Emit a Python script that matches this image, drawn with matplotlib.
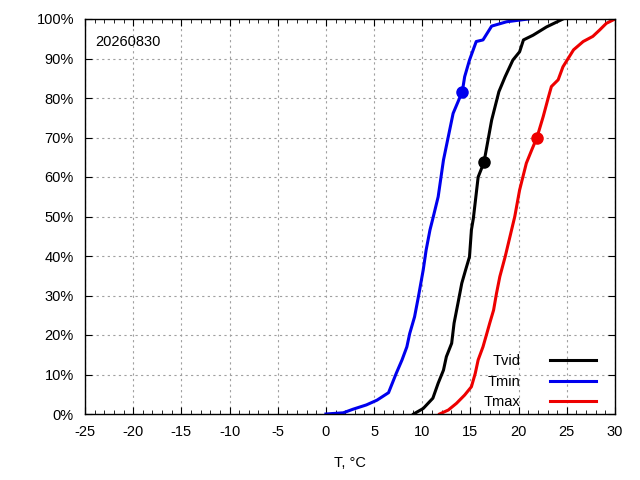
import matplotlib
matplotlib.use("Agg")
import matplotlib.pyplot as plt
from matplotlib.ticker import MultipleLocator, FuncFormatter

plt.rcParams['font.family'] = ['Liberation Sans', 'DejaVu Sans']
plt.rcParams['axes.unicode_minus'] = False

# Tmin
tmin_t = [0, 1.8, 2.8, 4.2, 5.3, 6.5, 7.3, 7.9, 8.4, 8.7, 9.2, 9.6, 10.1, 10.4, 10.8,
          11.1, 11.65, 12.2, 12.7, 13.2, 14.15, 14.4, 14.9, 15.6, 16.3, 17.2, 18.75, 21.0]
tmin_p = [0, 0.3, 1.2, 2.3, 3.5, 5.4, 10.3, 13.7, 17, 20.4, 24.6, 29.7, 36.5, 41.5, 46.6,
          49.5, 55, 64.3, 70.2, 76.1, 81.6, 85.4, 89.6, 94.3, 94.7, 98.2, 99.3, 100]
# Tvid
tvid_t = [9.1, 10.1, 11.1, 11.65, 12.2, 12.5, 13.05, 13.3, 13.7, 14.1, 14.5, 14.9, 15.1,
          15.3, 15.8, 16.4, 16.7, 17.2, 17.95, 18.6, 19.4, 20.1, 20.5, 21.5, 22.9, 24.6]
tvid_p = [0, 1.4, 4, 7.8, 11.1, 14.5, 17.9, 23, 28, 33.1, 36.5, 39.8, 46.6,
          49.5, 60, 63.7, 67.7, 74.4, 81.6, 85.4, 89.6, 91.7, 94.7, 95.9, 98, 100]
# Tmax
tmax_t = [11.8, 12.7, 13.55, 14.4, 15.1, 15.5, 15.8, 16.3, 16.7, 17.0, 17.4, 17.7, 18.05,
          18.6, 19.1, 19.6, 20.1, 20.8, 21.35, 21.9, 22.55, 23.1, 23.4, 24.1, 24.6, 25.7,
          26.7, 27.7, 28.4, 29.1, 30.0]
tmax_p = [0, 1, 2.7, 4.8, 6.9, 10.3, 13.7, 17, 20.4, 23, 26.3, 30.5, 34.8,
          39.8, 44.9, 50, 56.7, 63.5, 66.8, 70, 75.3, 80.3, 82.9, 84.6, 87.9, 92.2,
          94.3, 95.6, 97.2, 98.9, 100]

# highlighted points
mark_vid = (16.4, 63.7)
mark_min = (14.15, 81.6)
mark_max = (21.9, 70.0)

fig = plt.figure(figsize=(6.4, 4.8), dpi=100)
ax = fig.add_axes([85 / 640, 66 / 480, 530 / 640, 395 / 480])

ax.plot(tvid_t, tvid_p, color='black', lw=2.2, label='Tvid')
ax.plot(tmin_t, tmin_p, color='#0000ee', lw=2.2, label='Tmin')
ax.plot(tmax_t, tmax_p, color='#ee0000', lw=2.2, label='Tmax')

ax.plot(*mark_vid, 'o', color='black', ms=8)
ax.plot(*mark_min, 'o', color='#0000ee', ms=8)
ax.plot(*mark_max, 'o', color='#ee0000', ms=8)

ax.set_xlim(-25, 30)
ax.set_ylim(0, 100)
ax.xaxis.set_major_locator(MultipleLocator(5))
ax.xaxis.set_minor_locator(MultipleLocator(1))
ax.yaxis.set_major_locator(MultipleLocator(10))
ax.yaxis.set_major_formatter(FuncFormatter(lambda v, p: '%d%%' % v))
ax.tick_params(which='both', direction='in', top=True, right=True, labelsize=10.5)
ax.tick_params(which='major', length=5, pad=8)
ax.tick_params(which='minor', length=3)
ax.grid(True, which='major', color='#a0a0a0', linestyle=(0, (2, 3)), lw=0.8)
for s in ax.spines.values():
    s.set_linewidth(1.0)

ax.set_xlabel('T, °C', fontsize=10.5, labelpad=12)
ax.text(0.02, 0.96, '20260830', transform=ax.transAxes, fontsize=10.5, va='top', ha='left')

ax.legend(loc='lower right', frameon=False, markerfirst=False, fontsize=10.5,
          handlelength=3.15, handletextpad=2.0, labelspacing=0.45,
          borderpad=0, borderaxespad=0, bbox_to_anchor=(0.964, 0.012))

fig.savefig('out.png', dpi=100)
